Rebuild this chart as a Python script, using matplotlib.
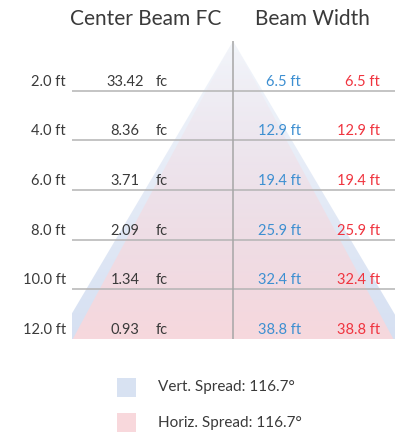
import numpy as np
import matplotlib
matplotlib.use('Agg')
import matplotlib.pyplot as plt
from matplotlib.patches import Polygon
from matplotlib.transforms import blended_transform_factory

plt.rcParams['font.family'] = ['Lato', 'DejaVu Sans']

# data
distance = [2.0, 4.0, 6.0, 8.0, 10.0, 12.0]
center_fc = [33.42, 8.36, 3.71, 2.09, 1.34, 0.93]
vert_width = [6.5, 12.9, 19.4, 25.9, 32.4, 38.8]
horiz_width = [6.5, 12.9, 19.4, 25.9, 32.4, 38.8]
vert_spread = 116.7
horiz_spread = 116.7

txt_col = '#3a3a3a'
blue = '#3d8fd1'
red = '#f0343f'

fig = plt.figure(figsize=(4.04, 4.33), dpi=100)
W, H = 404, 433
ax = fig.add_axes([72 / W, 1 - 339 / H, 323 / W, 298 / H])
ax.axis('off')

dmax = distance[-1]
blue_half = vert_width[-1] / 2 * 1.1   # drawn a touch wider so it shows behind
red_half = horiz_width[-1] / 2

grad = np.linspace(0, 1, 256)

def cone(half, rgb, a0, a1, z):
    poly = Polygon([(0, 0), (-half, dmax), (half, dmax)], closed=True,
                   facecolor='none', edgecolor='none')
    ax.add_patch(poly)
    img = np.zeros((256, 1, 4))
    img[..., :3] = rgb
    img[:, 0, 3] = a0 + (a1 - a0) * grad
    im = ax.imshow(img, extent=(-half, half, dmax, 0), aspect='auto',
                   zorder=z, interpolation='bilinear')
    im.set_clip_path(poly)

cone(blue_half, (0.84, 0.88, 0.95), 0.3, 1.0, 1)
cone(red_half, (0.97, 0.85, 0.87), 0.0, 1.0, 2)

ax.set_xlim(-19.5, 19.6)
ax.set_ylim(dmax, 0)

# grid lines and center line
for d in distance[:-1]:
    ax.axhline(d, color='#b4b4b4', lw=1.1, zorder=3)
ax.plot([0, 0], [0, dmax], color='#a6a6a6', lw=1.1, zorder=4)

# row texts
tr = blended_transform_factory(fig.transFigure, ax.transData)
off = 0.36
kw = dict(transform=tr, va='center', fontsize=10.5, zorder=5)
for d, fc, vw, hw in zip(distance, center_fc, vert_width, horiz_width):
    y = d - off
    ax.text(66 / W, y, f'{d:.1f} ft', ha='right', color=txt_col, **kw)
    ax.text(125 / W, y, f'{fc:.2f}', ha='center', color=txt_col, **kw)
    ax.text(156 / W, y, 'fc', ha='left', color=txt_col, **kw)
    ax.text(301 / W, y, f'{vw:.1f} ft', ha='right', color=blue, **kw)
    ax.text(380 / W, y, f'{hw:.1f} ft', ha='right', color=red, **kw)

# headers
fig.text(146 / W, 1 - 19 / H, 'Center Beam FC', ha='center', va='center',
         fontsize=15, color=txt_col)
fig.text(312 / W, 1 - 19 / H, 'Beam Width', ha='center', va='center',
         fontsize=15, color=txt_col)

# legend
for yc, col, lab in [(387.5, '#d8e2f2', f'Vert. Spread: {vert_spread}°'),
                     (422.5, '#f8d8dc', f'Horiz. Spread: {horiz_spread}°')]:
    fig.patches.append(plt.Rectangle((117 / W, 1 - (yc + 9.5) / H), 19 / W, 19 / H,
                                     transform=fig.transFigure, facecolor=col,
                                     edgecolor='none'))
    fig.text(158 / W, 1 - yc / H, lab, ha='left', va='center',
             fontsize=11, color=txt_col)

fig.savefig('out.png', dpi=100, facecolor='white')
